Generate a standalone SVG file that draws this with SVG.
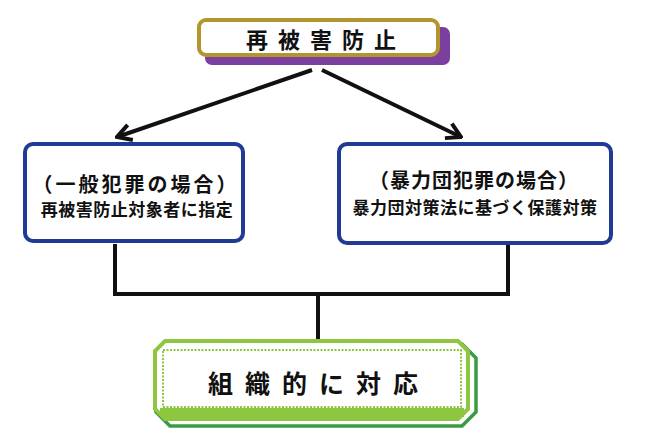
<svg xmlns="http://www.w3.org/2000/svg" width="650" height="448" viewBox="0 0 650 448">
<defs>
<style>
.t{font-family:"Noto Sans CJK JP","Noto Sans CJK SC",sans-serif;font-weight:700;fill:#111}
.blue{fill:#fff;stroke:#1f3b95;stroke-width:4}
.conn{stroke:#111;stroke-width:4;fill:none}
</style>
<marker id="ah" viewBox="-18 -10 20 20" markerWidth="20" markerHeight="20" refX="0" refY="0" orient="auto" markerUnits="userSpaceOnUse">
<path d="M-14,-8 L0,0 L-14,8" fill="none" stroke="#111" stroke-width="4" stroke-linejoin="miter"/>
</marker>
</defs>
<rect width="650" height="448" fill="#fff"/>
<g id="connectors">
<line class="conn" x1="312" y1="70" x2="117" y2="137" marker-end="url(#ah)"/>
<line class="conn" x1="322" y1="70" x2="461" y2="137" marker-end="url(#ah)"/>
<polyline class="conn" points="115,244 115,294 508,294 508,244"/>
<line class="conn" x1="318" y1="294" x2="318" y2="341"/>
</g>
<g id="node-top">
<rect x="205" y="27" width="245" height="38" rx="7" fill="#7b3f9f"/>
<rect x="199" y="20" width="239" height="35" rx="7" fill="#fff" stroke="#b3952e" stroke-width="4"/>
<text class="t" x="246" y="48" font-size="22" letter-spacing="10">再被害防止</text>
</g>
<g id="node-left">
<rect class="blue" x="25" y="144" width="218" height="97" rx="8"/>
<text class="t" x="136" y="192" font-size="20" letter-spacing="3" text-anchor="middle">（一般犯罪の場合）</text>
<text class="t" x="137" y="216" font-size="17" letter-spacing="0.5" text-anchor="middle">再被害防止対象者に指定</text>
</g>
<g id="node-right">
<rect class="blue" x="339" y="144" width="272" height="99" rx="8"/>
<text class="t" x="474" y="188" font-size="20" letter-spacing="1" text-anchor="middle">（暴力団犯罪の場合）</text>
<text class="t" x="475" y="214" font-size="17" letter-spacing="0.5" text-anchor="middle">暴力団対策法に基づく保護対策</text>
</g>
<g id="node-bottom">
<polygon points="170,344 462,344 476,358 476,412 462,426 170,426 156,412 156,358" fill="none" stroke="#3b9a44" stroke-width="3.5"/>
<polygon points="165,341 458,341 468,351 468,409 458,419 165,419 155,409 155,351" fill="#fff" stroke="#8dc63f" stroke-width="4"/>
<rect x="160" y="408" width="304" height="9" fill="#8dc63f"/>
<rect x="163" y="350" width="298" height="57" fill="none" stroke="#8dc63f" stroke-width="2" stroke-dasharray="2 1.5"/>
<text class="t" x="208" y="393" font-size="25" letter-spacing="12">組織的に対応</text>
</g>
</svg>
